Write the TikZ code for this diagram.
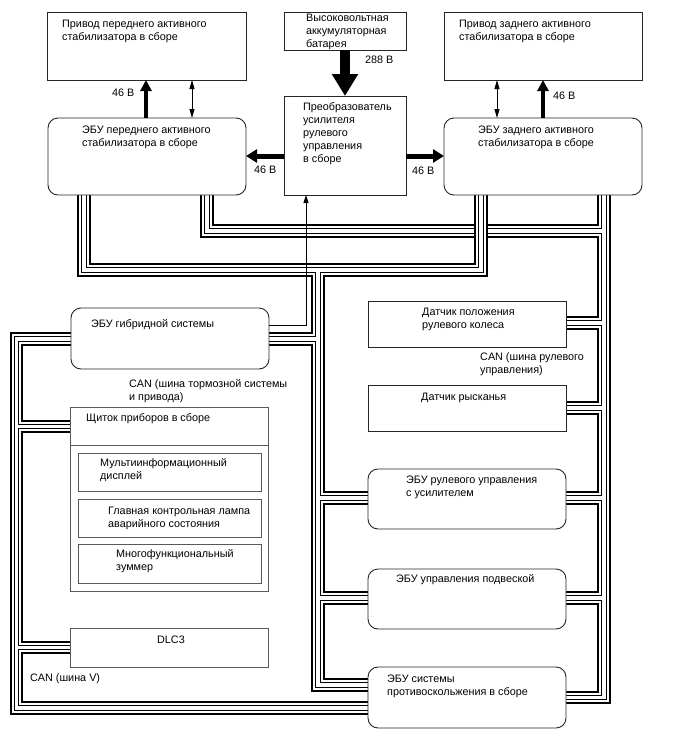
\documentclass[tikz,border=0pt]{standalone}
\usepackage{fontspec}
\setmainfont{Liberation Sans}
\usetikzlibrary{arrows.meta}
\newcommand\fs{\fontsize{10.8pt}{13pt}\selectfont}
\newcommand\ml[1]{\vtop{\baselineskip=13pt\lineskiplimit=-20pt\lineskip=0pt\halign{##\hfil\cr#1\crcr}}}
\newcommand\bus[1]{%
  \draw[line width=13.5pt,black,line join=miter] #1;
  \draw[line width=9.5pt,white,line join=miter] #1;
  \draw[line width=5.5pt,black,line join=miter] #1;
  \draw[line width=3.5pt,white,line join=miter] #1;}
\begin{document}
\begin{tikzpicture}[x=1pt,y=-1pt,
  every node/.style={font=\fs},
  box/.style={draw=black!85,fill=white,line width=0.9pt,outer sep=0pt,inner sep=0pt,anchor=north west},
  rbox/.style={box,rounded corners=10pt},
  gbox/.style={box,draw=black!65},
  txt/.style={anchor=base west,inner sep=0pt},
  thickar/.style={line width=4pt,-{Triangle[length=11pt,width=11pt]}},
  midar/.style={line width=5pt,-{Triangle[length=11pt,width=13pt]}},
  bigar/.style={line width=10pt,-{Triangle[length=22pt,width=25pt]}},
  dblar/.style={line width=0.8pt,{Triangle[length=9pt,width=5pt]}-{Triangle[length=9pt,width=5pt]}},
  thinar/.style={line width=0.8pt,-{Triangle[length=8pt,width=5pt]}}]
\useasboundingbox[fill=white] (0,0) rectangle (688,755);

% ---- buses ----
\bus{(207,190) -- (207,231) -- (604,231)
     (604,190) -- (604,697.5) -- (560,697.5)
     (604,323) -- (560,323)
     (604,408) -- (560,408)
     (604,498) -- (560,498)
     (604,598) -- (560,598)}
\bus{(84,190) -- (84,270) -- (481,270) -- (481,190)
     (318,270) -- (318,685) -- (374,685)
     (318,339) -- (262,339)
     (318,498) -- (374,498)
     (318,598) -- (374,598)}
\bus{(77,339) -- (16.5,339) -- (16.5,708) -- (374,708)
     (16.5,426.5) -- (76,426.5)
     (16.5,647.5) -- (76,647.5)}

% ---- boxes ----
\node[box,minimum width=199pt,minimum height=68pt] (fa) at (47,12) {};
\node[box,minimum width=122pt,minimum height=38pt] (bat) at (284,12) {};
\node[box,minimum width=122pt,minimum height=99pt] (conv) at (284,96) {};
\node[box,minimum width=198pt,minimum height=68pt] (ra) at (444,12) {};
\node[rbox,minimum width=198pt,minimum height=77pt] (fe) at (48,118) {};
\node[rbox,minimum width=198pt,minimum height=77pt] (re) at (444,118) {};
\node[rbox,minimum width=198pt,minimum height=61pt] (hyb) at (71,308) {};
\node[gbox,minimum width=198pt,minimum height=184pt] (clu) at (70,407) {};
\draw[draw=black!65,line width=0.9pt] (70,445) -- (268,445);
\node[gbox,minimum width=183pt,minimum height=38pt] (mid) at (78,453) {};
\node[gbox,minimum width=183pt,minimum height=38pt] (mw) at (78,499) {};
\node[gbox,minimum width=183pt,minimum height=39pt] (bz) at (78,544) {};
\node[gbox,minimum width=198pt,minimum height=39pt] (dlc) at (70,628) {};
\node[box,minimum width=198pt,minimum height=46pt] (sas) at (368,301) {};
\node[box,minimum width=198pt,minimum height=46pt] (yaw) at (368,385) {};
\node[rbox,minimum width=198pt,minimum height=60pt] (eps) at (368,469) {};
\node[rbox,minimum width=198pt,minimum height=60pt] (sus) at (368,569) {};
\node[rbox,minimum width=198pt,minimum height=61pt] (skid) at (368,667) {};

% ---- texts ----
\node[txt] (tfa) at (62,27) {\ml{Привод переднего активного\cr стабилизатора в сборе}};
\node[txt] (tbat) at (306,21.5) {\ml{Высоковольтная\cr аккумуляторная\cr батарея}};
\node[txt] (tconv) at (303,110) {\ml{Преобразователь\cr усилителя\cr рулевого\cr управления\cr в сборе}};
\node[txt] (tra) at (459,27) {\ml{Привод заднего активного\cr стабилизатора в сборе}};
\node[txt] (tfe) at (82,133) {\ml{ЭБУ переднего активного\cr стабилизатора в сборе}};
\node[txt] (tre) at (478,133) {\ml{ЭБУ заднего активного\cr стабилизатора в сборе}};
\node[txt] (v288) at (365,63) {288 В};
\node[txt] (v1) at (112,96) {46 В};
\node[txt] (v2) at (553,99) {46 В};
\node[txt] (v3) at (254,173) {46 В};
\node[txt] (v4) at (412,174) {46 В};
\node[txt] (thyb) at (91,327) {ЭБУ гибридной системы};
\node[txt] (tcan1) at (129,387) {\ml{CAN (шина тормозной системы\cr и привода)}};
\node[txt] (tclu) at (86,421) {Щиток приборов в сборе};
\node[txt] (tmid) at (100,466) {\ml{Мультиинформационный\cr дисплей}};
\node[txt] (tmw) at (108,514) {\ml{Главная контрольная лампа\cr аварийного состояния}};
\node[txt] (tbz) at (116,557) {\ml{Многофункциональный\cr зуммер}};
\node[anchor=base,inner sep=0pt] (tdlc) at (171,643) {DLC3};
\node[txt] (tcan3) at (30,681) {CAN (шина V)};
\node[txt] (tsas) at (422,315) {\ml{Датчик положения\cr рулевого колеса}};
\node[txt] (tcan2) at (480,360) {\ml{CAN (шина рулевого\cr управления)}};
\node[txt] (tyaw) at (421,400) {Датчик рысканья};
\node[txt] (teps) at (406,483) {\ml{ЭБУ рулевого управления\cr с усилителем}};
\node[txt] (tsus) at (396,582) {ЭБУ управления подвеской};
\node[txt] (tskid) at (387,682) {\ml{ЭБУ системы\cr противоскольжения в сборе}};

% ---- arrows ----
\coordinate (xa) at (146,0);
\coordinate (xb) at (192,0);
\coordinate (xc) at (497,0);
\coordinate (xd) at (543,0);
\coordinate (xe) at (345,0);
\coordinate (xh) at (306,0);
\coordinate (yb) at (0,156);
\coordinate (yh) at (0,325);
\draw[thickar] (fe.north -| xa) -- (fa.south -| xa);
\draw[dblar] (fe.north -| xb) -- (fa.south -| xb);
\draw[dblar] (re.north -| xc) -- (ra.south -| xc);
\draw[thickar] (re.north -| xd) -- (ra.south -| xd);
\draw[bigar] (bat.south -| xe) -- (conv.north -| xe);
\draw[midar] (conv.west |- yb) -- (fe.east |- yb);
\draw[midar] (conv.east |- yb) -- (re.west |- yb);
\draw[thinar] (hyb.east |- yh) -| (conv.south -| xh);
\end{tikzpicture}
\end{document}
